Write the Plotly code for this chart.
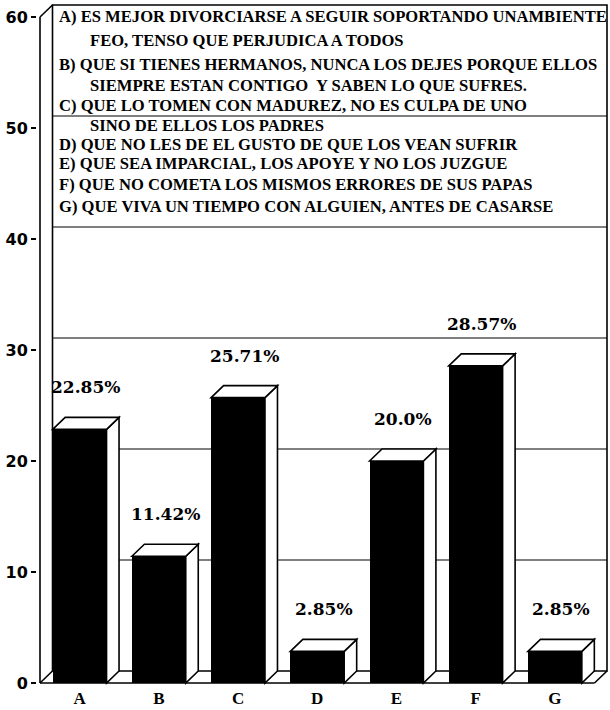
import plotly.graph_objects as go

# ---------------- data ----------------
categories = ["A", "B", "C", "D", "E", "F", "G"]
values = [22.85, 11.42, 25.71, 2.85, 20.0, 28.57, 2.85]
value_labels = ["22.85%", "11.42%", "25.71%", "2.85%", "20.0%", "28.57%", "2.85%"]
y_ticks = [0, 10, 20, 30, 40, 50, 60]
legend_lines = [
    "A) ES MEJOR DIVORCIARSE A SEGUIR SOPORTANDO UNAMBIENTE",
    "FEO, TENSO QUE PERJUDICA A TODOS",
    "B) QUE SI TIENES HERMANOS, NUNCA LOS DEJES PORQUE ELLOS",
    "SIEMPRE ESTAN CONTIGO  Y SABEN LO QUE SUFRES.",
    "C) QUE LO TOMEN CON MADUREZ, NO ES CULPA DE UNO",
    "SINO DE ELLOS LOS PADRES",
    "D) QUE NO LES DE EL GUSTO DE QUE LOS VEAN SUFRIR",
    "E) QUE SEA IMPARCIAL, LOS APOYE Y NO LOS JUZGUE",
    "F) QUE NO COMETA LOS MISMOS ERRORES DE SUS PAPAS",
    "G) QUE VIVA UN TIEMPO CON ALGUIEN, ANTES DE CASARSE",
]

# ---------------- layout geometry (pixels) ----------------
W, H = 610, 710
FX0, FX1 = 40, 607      # front-left axis pixel, back-right wall pixel
FY0, FY1 = 683, 5       # y=0 front pixel, top of back wall pixel
PAD = 3
DX_PX, DY_PX = 12.5, 12
n = len(categories)
ymax = 60

ppc = (FX1 - FX0 - DX_PX) / n          # pixels per category
dxc = DX_PX / ppc
ppu = (FY0 - FY1 - DY_PX) / ymax       # pixels per unit
dyu = DY_PX / ppu

x0, x1 = -0.5, n - 0.5
bw = 0.68

L = FX0 - PAD
R = 1
T = 2
B = H - (FY0 + PAD)
xr = [x0 - PAD / ppc, x1 + dxc + (W - R - FX1) / ppc]
yr = [-PAD / ppu, ymax + dyu + (FY1 - T) / ppu]

LINE = dict(color="black", width=1.6)

shapes = []
# back wall
shapes.append(dict(type="rect", xref="x", yref="y", x0=x0 + dxc, x1=x1 + dxc,
                   y0=dyu, y1=ymax + dyu, line=LINE, fillcolor="white", layer="below"))
# back wall gridlines
for t in y_ticks[1:-1]:
    shapes.append(dict(type="line", xref="x", yref="y", x0=x0 + dxc, x1=x1 + dxc,
                       y0=t + dyu, y1=t + dyu, line=dict(color="black", width=1.2), layer="below"))
# left wall / front axis
shapes.append(dict(type="line", xref="x", yref="y", x0=x0, x1=x0, y0=0, y1=ymax, line=LINE, layer="below"))
shapes.append(dict(type="line", xref="x", yref="y", x0=x0, x1=x0 + dxc, y0=ymax, y1=ymax + dyu, line=LINE, layer="below"))
shapes.append(dict(type="line", xref="x", yref="y", x0=x0, x1=x0 + dxc, y0=0, y1=dyu, line=LINE, layer="below"))
# floor front edge and right diagonal
shapes.append(dict(type="line", xref="x", yref="y", x0=x0, x1=x1, y0=0, y1=0, line=LINE, layer="below"))
shapes.append(dict(type="line", xref="x", yref="y", x0=x1, x1=x1 + dxc, y0=0, y1=dyu, line=LINE, layer="below"))

# bar top and side faces
for i, v in enumerate(values):
    a, b = i - bw / 2, i + bw / 2
    top = f"M{a},{v} L{a + dxc},{v + dyu} L{b + dxc},{v + dyu} L{b},{v} Z"
    side = f"M{b},0 L{b},{v} L{b + dxc},{v + dyu} L{b + dxc},{dyu} Z"
    for p in (side, top):
        shapes.append(dict(type="path", xref="x", yref="y", path=p,
                           fillcolor="white", line=dict(color="black", width=1.6), layer="above"))

fig = go.Figure()
fig.add_trace(go.Bar(x=list(range(n)), y=values, width=bw,
                     marker=dict(color="black", line=dict(width=0)),
                     hoverinfo="skip", showlegend=False))

annotations = []
for i, (v, lab) in enumerate(zip(values, value_labels)):
    annotations.append(dict(x=i + dxc / 2, y=v, xref="x", yref="y", text=lab,
                            showarrow=False, yshift=42, yanchor="middle",
                            font=dict(family="DejaVu Serif", size=17, color="black", weight="bold")))

# legend text block (pixel anchors converted to paper coords)
leg_x = [58, 89, 58, 89, 58, 89, 58, 58, 58, 58]
leg_y = [17, 41, 65, 85, 105, 125, 145, 164, 184, 206]
pw = W - L - R
ph = H - T - B
for txt, px, py in zip(legend_lines, leg_x, leg_y):
    annotations.append(dict(x=(px - L) / pw, y=1 - (py - T) / ph, xref="paper", yref="paper",
                            text=txt, showarrow=False, xanchor="left", yanchor="middle",
                            borderpad=0,
                            font=dict(family="Liberation Serif", size=16.6, color="black", weight="bold")))

fig.update_layout(
    width=W, height=H,
    margin=dict(l=L, r=R, t=T, b=B, pad=0, autoexpand=False),
    paper_bgcolor="white", plot_bgcolor="white",
    shapes=shapes, annotations=annotations,
    bargap=0,
    xaxis=dict(range=xr, tickvals=list(range(n)), ticktext=categories,
               showgrid=False, zeroline=False, showline=False, ticks="",
               automargin=False, fixedrange=True,
               tickfont=dict(family="Liberation Serif", size=17, color="black", weight="bold")),
    yaxis=dict(range=yr, tickvals=y_ticks, showgrid=False, zeroline=False, showline=False,
               ticks="outside", ticklen=5, tickwidth=1.5, tickcolor="black",
               automargin=False, fixedrange=True,
               tickfont=dict(family="DejaVu Sans", size=16, color="black", weight="bold")),
)

fig.write_html("out.html", config={"displayModeBar": False},
               post_script="document.body.style.margin='0px';document.body.style.overflow='hidden';")
